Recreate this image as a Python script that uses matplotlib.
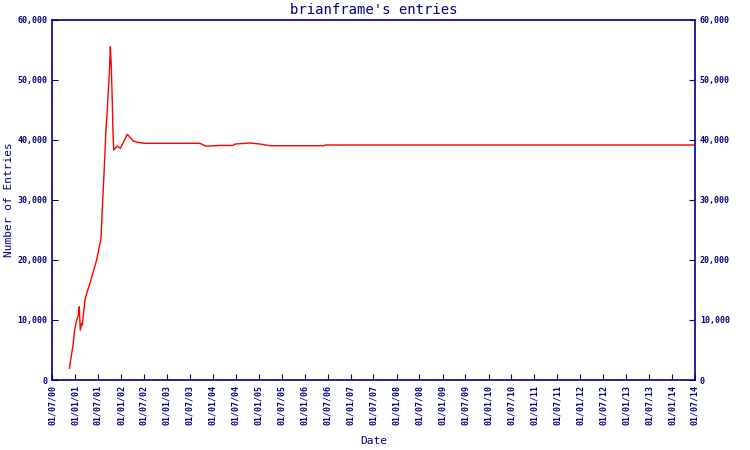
import matplotlib
matplotlib.use("Agg")
import matplotlib.pyplot as plt
import matplotlib.dates as mdates
import matplotlib.ticker as mticker
import pandas as pd

# entry counts
dates = ["2000-11-16", "2000-12-05", "2000-12-17", "2000-12-28", "2001-01-13",
         "2001-01-26", "2001-02-03", "2001-02-11", "2001-02-22", "2001-02-27",
         "2001-03-07", "2001-03-20", "2001-04-03", "2001-04-29", "2001-05-25",
         "2001-06-21", "2001-07-12", "2001-07-26", "2001-07-31", "2001-08-08",
         "2001-08-18", "2001-08-26", "2001-09-03", "2001-09-14", "2001-09-22",
         "2001-09-30", "2001-10-05", "2001-10-08", "2001-10-15", "2001-10-23",
         "2001-10-29", "2001-11-04", "2001-12-02", "2001-12-26", "2002-02-20",
         "2002-04-08", "2002-05-13", "2002-07-05", "2003-09-20", "2003-11-04",
         "2003-12-08", "2004-02-18", "2004-06-11", "2004-06-25", "2004-10-22",
         "2005-01-10", "2005-03-30", "2006-06-05", "2006-06-11", "2014-07-01"]
entries = [1950, 4450, 6100, 8300, 10000,
           10800, 12200, 8300, 9450, 9150,
           10800, 13300, 14450, 16100, 18050,
           20000, 22200, 23600, 26100, 30000,
           34050, 37780, 41830, 45170, 48330,
           51100, 54000, 55550, 52500, 46800,
           41220, 38330, 39000, 38600, 40950,
           39830, 39600, 39450, 39450, 39000,
           39000, 39100, 39100, 39330, 39500,
           39330, 39050, 39050, 39170, 39170]

navy = "#000080"
mono = "DejaVu Sans Mono"

x = pd.to_datetime(dates)

fig = plt.figure(figsize=(7.5, 4.5), dpi=100)
ax = fig.add_axes([52/750, 1 - 380/450, 643/750, 360/450])
ax.plot(x, entries, color="red", linewidth=1)

ax.set_xlim(pd.Timestamp("2000-07-01"), pd.Timestamp("2014-07-01"))
ax.set_ylim(0, 60000)

ax.xaxis.set_major_locator(mdates.MonthLocator(bymonth=[1, 7], bymonthday=1))
ax.xaxis.set_major_formatter(mdates.DateFormatter("%d/%m/%y"))
ax.yaxis.set_major_locator(mticker.MultipleLocator(10000))
ax.yaxis.set_major_formatter(mticker.FuncFormatter(lambda v, p: f"{int(v):,}"))

for s in ax.spines.values():
    s.set_color(navy)
    s.set_linewidth(1.2)

ax.tick_params(axis="both", direction="in", length=4, color=navy,
               labelcolor=navy, labelsize=6, right=True, labelright=True)
ax.tick_params(axis="x", labelrotation=90)
for lbl in ax.get_xticklabels() + ax.get_yticklabels():
    lbl.set_family(mono)
    lbl.set_fontweight("bold")

ax.set_title("brianframe's entries", color=navy, family=mono, fontsize=10, pad=4)
ax.set_xlabel("Date", color=navy, family=mono, fontsize=8, labelpad=8)
ax.set_ylabel("Number of Entries", color=navy, family=mono, fontsize=8, labelpad=2)

fig.savefig("out.png", dpi=100)
